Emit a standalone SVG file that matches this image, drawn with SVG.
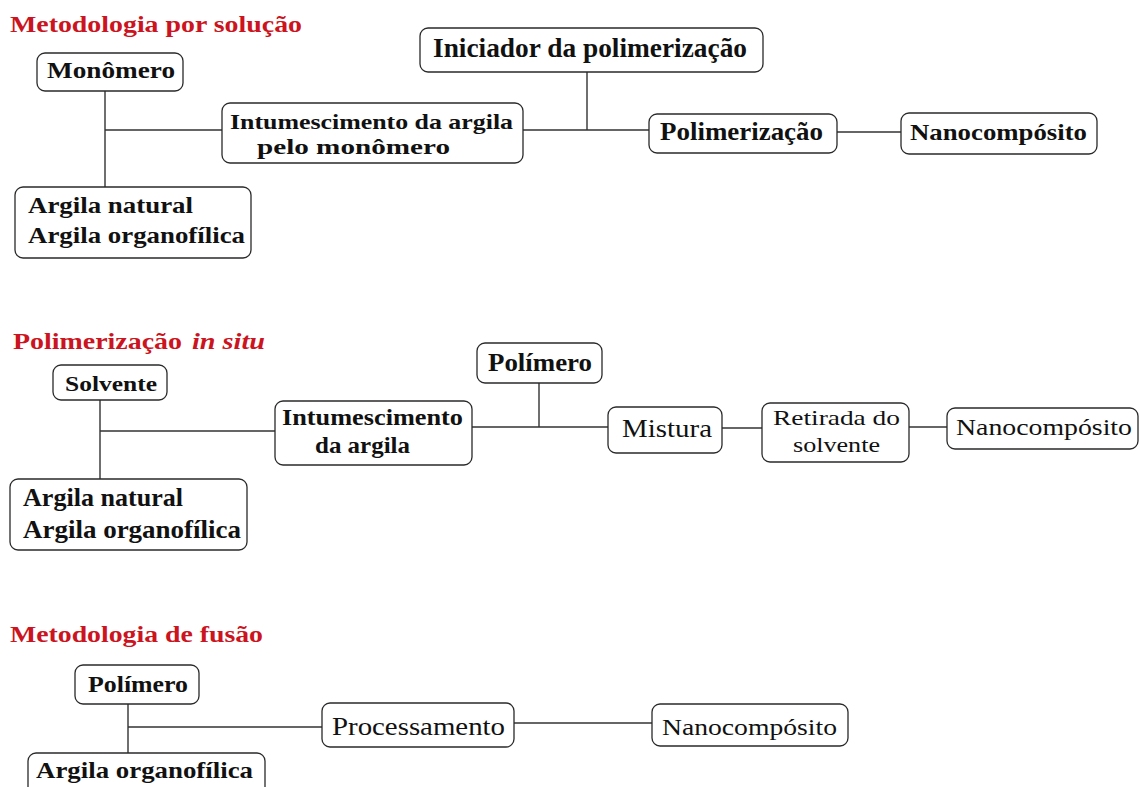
<svg xmlns="http://www.w3.org/2000/svg" width="1141" height="787" viewBox="0 0 1141 787">
<style>
.bg{fill:#ffffff}
.box{fill:#ffffff;stroke:#2a2a2a;stroke-width:1.3}
.ln{stroke:#333333;stroke-width:1.4;fill:none}
text{font-family:"Liberation Serif","Times New Roman",serif;fill:#111111}
.b{font-weight:bold}
.r{font-weight:normal}
.title{fill:#cc1420;font-weight:bold;font-size:24px}
</style>
<rect class="bg" x="0" y="0" width="1141" height="787"/>

<!-- Section titles -->
<text class="title" x="10" y="32" textLength="292" lengthAdjust="spacingAndGlyphs">Metodologia por solução</text>
<text class="title" x="13" y="349"><tspan textLength="169" lengthAdjust="spacingAndGlyphs">Polimerização</tspan><tspan x="192" font-style="italic" textLength="73" lengthAdjust="spacingAndGlyphs">in situ</tspan></text>
<text class="title" x="10" y="642" textLength="253" lengthAdjust="spacingAndGlyphs">Metodologia de fusão</text>

<!-- Connectors -->
<g id="connectors">
  <path class="ln" d="M105 91 V187 M105 130 H222"/>
  <path class="ln" d="M523 130 H649 M587 72 V130"/>
  <path class="ln" d="M837 132 H901"/>
  <path class="ln" d="M100 400 V479 M100 431 H275"/>
  <path class="ln" d="M472 427 H608 M539 383 V427"/>
  <path class="ln" d="M722 428 H762"/>
  <path class="ln" d="M909 427 H947"/>
  <path class="ln" d="M128 704 V753 M128 727 H322"/>
  <path class="ln" d="M514 723 H652"/>
</g>

<!-- Section 1 -->
<g id="s1-monomero">
  <rect class="box" x="37" y="53" width="146" height="38" rx="8"/>
  <text class="b" x="47" y="78" font-size="23" textLength="128" lengthAdjust="spacingAndGlyphs">Monômero</text>
</g>
<g id="s1-argila">
  <rect class="box" x="15" y="187" width="236" height="71" rx="8"/>
  <text class="b" x="28" y="213" font-size="23" textLength="165" lengthAdjust="spacingAndGlyphs">Argila natural</text>
  <text class="b" x="28" y="243" font-size="23" textLength="217" lengthAdjust="spacingAndGlyphs">Argila organofílica</text>
</g>
<g id="s1-intumescimento">
  <rect class="box" x="222" y="103" width="301" height="60" rx="8"/>
  <text class="b" x="230" y="129" font-size="22" textLength="283" lengthAdjust="spacingAndGlyphs">Intumescimento da argila</text>
  <text class="b" x="257" y="154" font-size="22" textLength="193" lengthAdjust="spacingAndGlyphs">pelo monômero</text>
</g>
<g id="s1-iniciador">
  <rect class="box" x="420" y="28" width="343" height="44" rx="8"/>
  <text class="b" x="433" y="57" font-size="27" textLength="314" lengthAdjust="spacingAndGlyphs">Iniciador da polimerização</text>
</g>
<g id="s1-polimerizacao">
  <rect class="box" x="649" y="114" width="188" height="39" rx="8"/>
  <text class="b" x="660" y="140" font-size="26" textLength="163" lengthAdjust="spacingAndGlyphs">Polimerização</text>
</g>
<g id="s1-nanocomposito">
  <rect class="box" x="901" y="113" width="196" height="41" rx="8"/>
  <text class="b" x="910" y="140" font-size="23" textLength="177" lengthAdjust="spacingAndGlyphs">Nanocompósito</text>
</g>

<!-- Section 2 -->
<g id="s2-solvente">
  <rect class="box" x="53" y="365" width="114" height="35" rx="8"/>
  <text class="b" x="65" y="391" font-size="22" textLength="92" lengthAdjust="spacingAndGlyphs">Solvente</text>
</g>
<g id="s2-argila">
  <rect class="box" x="10" y="479" width="237" height="71" rx="8"/>
  <text class="b" x="23" y="506" font-size="25" textLength="160" lengthAdjust="spacingAndGlyphs">Argila natural</text>
  <text class="b" x="23" y="538" font-size="25" textLength="218" lengthAdjust="spacingAndGlyphs">Argila organofílica</text>
</g>
<g id="s2-intumescimento">
  <rect class="box" x="275" y="401" width="197" height="64" rx="8"/>
  <text class="b" x="282" y="425" font-size="24" textLength="181" lengthAdjust="spacingAndGlyphs">Intumescimento</text>
  <text class="b" x="315" y="453" font-size="24" textLength="95" lengthAdjust="spacingAndGlyphs">da argila</text>
</g>
<g id="s2-polimero">
  <rect class="box" x="477" y="343" width="125" height="40" rx="8"/>
  <text class="b" x="488" y="371" font-size="26" textLength="104" lengthAdjust="spacingAndGlyphs">Polímero</text>
</g>
<g id="s2-mistura">
  <rect class="box" x="608" y="407" width="114" height="46" rx="8"/>
  <text class="r" x="622" y="437" font-size="26" textLength="90" lengthAdjust="spacingAndGlyphs">Mistura</text>
</g>
<g id="s2-retirada">
  <rect class="box" x="762" y="403" width="147" height="59" rx="8"/>
  <text class="r" x="773" y="425" font-size="22" textLength="127" lengthAdjust="spacingAndGlyphs">Retirada do</text>
  <text class="r" x="793" y="452" font-size="22" textLength="87" lengthAdjust="spacingAndGlyphs">solvente</text>
</g>
<g id="s2-nanocomposito">
  <rect class="box" x="947" y="408" width="191" height="41" rx="8"/>
  <text class="r" x="956" y="435" font-size="23" textLength="176" lengthAdjust="spacingAndGlyphs">Nanocompósito</text>
</g>

<!-- Section 3 -->
<g id="s3-polimero">
  <rect class="box" x="75" y="665" width="124" height="39" rx="8"/>
  <text class="b" x="88" y="692" font-size="23" textLength="100" lengthAdjust="spacingAndGlyphs">Polímero</text>
</g>
<g id="s3-argila">
  <rect class="box" x="28" y="753" width="237" height="46" rx="8"/>
  <text class="b" x="36" y="778" font-size="23" textLength="217" lengthAdjust="spacingAndGlyphs">Argila organofílica</text>
</g>
<g id="s3-processamento">
  <rect class="box" x="322" y="703" width="192" height="44" rx="8"/>
  <text class="r" x="332" y="735" font-size="26" textLength="173" lengthAdjust="spacingAndGlyphs">Processamento</text>
</g>
<g id="s3-nanocomposito">
  <rect class="box" x="652" y="704" width="196" height="42" rx="8"/>
  <text class="r" x="662" y="735" font-size="24" textLength="175" lengthAdjust="spacingAndGlyphs">Nanocompósito</text>
</g>
</svg>
